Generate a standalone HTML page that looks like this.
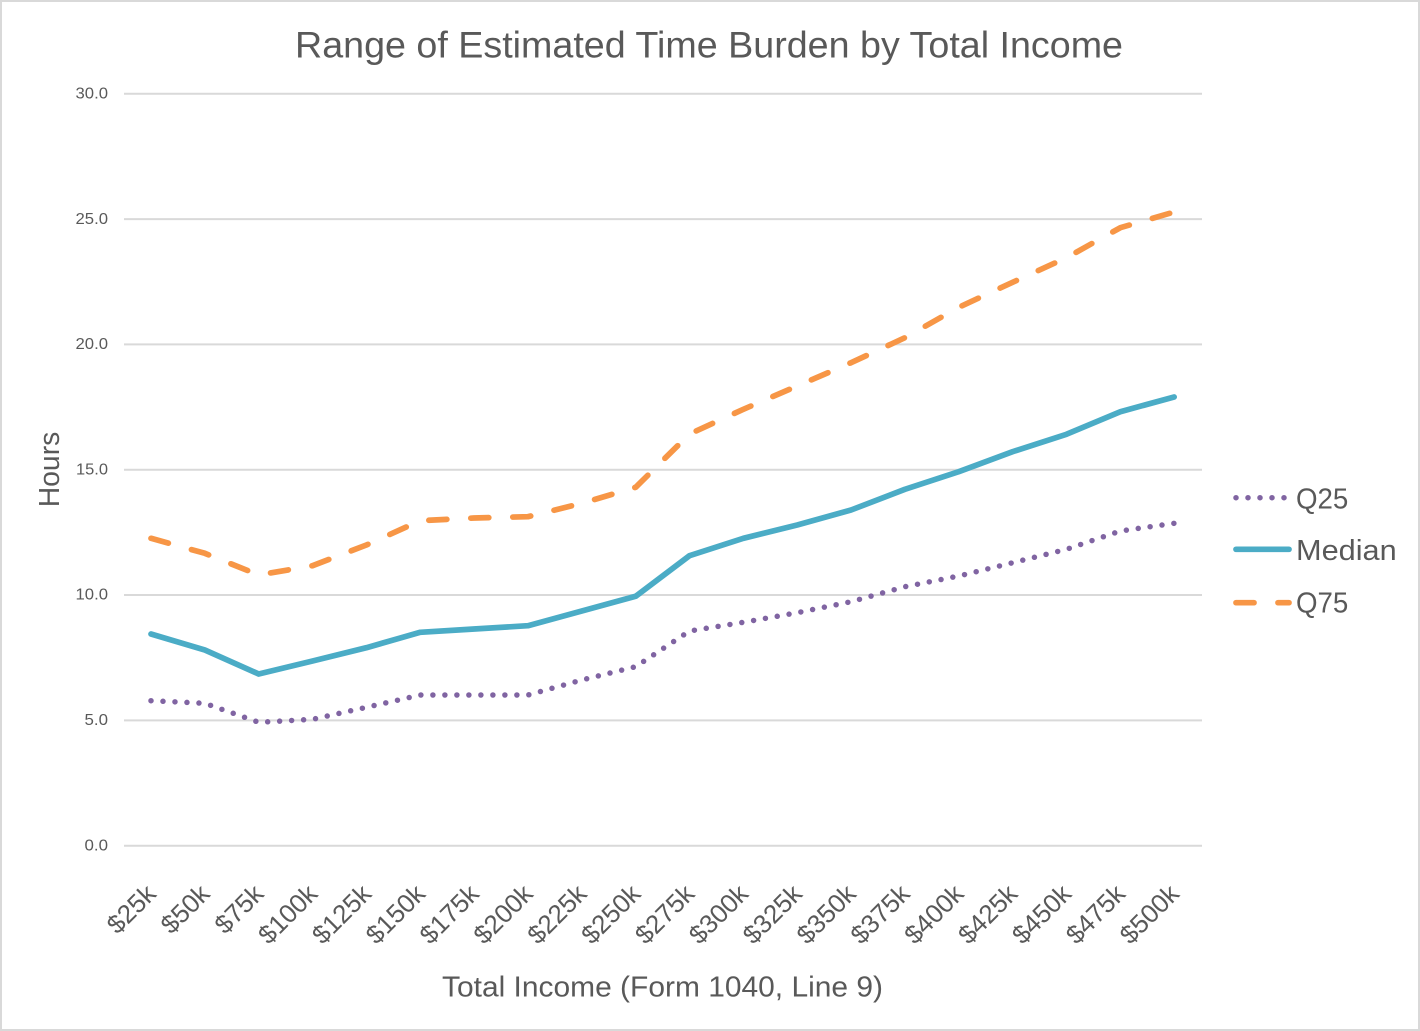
<!DOCTYPE html>
<html>
<head>
<meta charset="utf-8">
<style>
  html, body { margin: 0; padding: 0; background: #ffffff; }
  svg { display: block; }
  text { font-family: "Liberation Sans", "DejaVu Sans", sans-serif; fill: #595959; }
</style>
</head>
<body>
<svg width="1420" height="1031" viewBox="0 0 1420 1031" xmlns="http://www.w3.org/2000/svg">
  <rect x="0" y="0" width="1420" height="1031" fill="#ffffff"/>
  <rect x="1" y="1" width="1418" height="1029" fill="none" stroke="#d9d9d9" stroke-width="2"/>

  <!-- Title -->
  <text x="709" y="57.5" font-size="37" text-anchor="middle" textLength="828" lengthAdjust="spacingAndGlyphs">Range of Estimated Time Burden by Total Income</text>

  <!-- Gridlines -->
  <g stroke="#d9d9d9" stroke-width="2">
    <line x1="124" y1="93.7" x2="1202" y2="93.7"/>
    <line x1="124" y1="219.1" x2="1202" y2="219.1"/>
    <line x1="124" y1="344.4" x2="1202" y2="344.4"/>
    <line x1="124" y1="469.8" x2="1202" y2="469.8"/>
    <line x1="124" y1="595.0" x2="1202" y2="595.0"/>
    <line x1="124" y1="720.4" x2="1202" y2="720.4"/>
    <line x1="124" y1="845.7" x2="1202" y2="845.7"/>
  </g>

  <!-- Y tick labels -->
  <g font-size="15.5" text-anchor="end">
    <text x="108" y="98.5" textLength="32.5" lengthAdjust="spacingAndGlyphs">30.0</text>
    <text x="108" y="223.8" textLength="32.5" lengthAdjust="spacingAndGlyphs">25.0</text>
    <text x="108" y="349.1" textLength="32.5" lengthAdjust="spacingAndGlyphs">20.0</text>
    <text x="108" y="474.4" textLength="32" lengthAdjust="spacingAndGlyphs">15.0</text>
    <text x="108" y="599.7" textLength="32.5" lengthAdjust="spacingAndGlyphs">10.0</text>
    <text x="108" y="725.0" textLength="23.5" lengthAdjust="spacingAndGlyphs">5.0</text>
    <text x="108" y="850.3" textLength="23.5" lengthAdjust="spacingAndGlyphs">0.0</text>
  </g>

  <!-- Y axis title -->
  <text transform="translate(59,469.5) rotate(-90)" font-size="29" text-anchor="middle" textLength="75.6" lengthAdjust="spacingAndGlyphs">Hours</text>

  <!-- X tick labels -->
  <g font-size="26" text-anchor="end">
    <text transform="translate(157.4,895.4) rotate(-45)">$25k</text>
    <text transform="translate(211.25,895.4) rotate(-45)">$50k</text>
    <text transform="translate(265.1,895.4) rotate(-45)">$75k</text>
    <text transform="translate(318.95,895.4) rotate(-45)">$100k</text>
    <text transform="translate(372.8,895.4) rotate(-45)">$125k</text>
    <text transform="translate(426.65,895.4) rotate(-45)">$150k</text>
    <text transform="translate(480.5,895.4) rotate(-45)">$175k</text>
    <text transform="translate(534.35,895.4) rotate(-45)">$200k</text>
    <text transform="translate(588.2,895.4) rotate(-45)">$225k</text>
    <text transform="translate(642.05,895.4) rotate(-45)">$250k</text>
    <text transform="translate(695.9,895.4) rotate(-45)">$275k</text>
    <text transform="translate(749.75,895.4) rotate(-45)">$300k</text>
    <text transform="translate(803.6,895.4) rotate(-45)">$325k</text>
    <text transform="translate(857.45,895.4) rotate(-45)">$350k</text>
    <text transform="translate(911.3,895.4) rotate(-45)">$375k</text>
    <text transform="translate(965.15,895.4) rotate(-45)">$400k</text>
    <text transform="translate(1019.0,895.4) rotate(-45)">$425k</text>
    <text transform="translate(1072.85,895.4) rotate(-45)">$450k</text>
    <text transform="translate(1126.7,895.4) rotate(-45)">$475k</text>
    <text transform="translate(1180.55,895.4) rotate(-45)">$500k</text>
  </g>

  <!-- X axis title -->
  <text x="442" y="996.7" font-size="29" textLength="441" lengthAdjust="spacingAndGlyphs">Total Income (Form 1040, Line 9)</text>

  <!-- Series -->
  <g fill="none" stroke-linejoin="round" stroke-linecap="round">
    <!-- Q25 -->
    <polyline stroke="#8064A2" stroke-width="5.5" stroke-dasharray="0 12"
      points="151,700.7 204.85,703.3 258.7,722.3 312.55,719.3 366.4,707.3 420.25,695 474.1,695 527.95,695 581.8,680 635.65,666.7 689.5,631 743.35,622.3 797.2,612.7 851.05,601.7 904.9,586.7 958.75,576 1012.6,562.7 1066.45,549.3 1120.3,531 1174.15,523.3"/>
    <!-- Median -->
    <polyline stroke="#4BACC6" stroke-width="5.7"
      points="151,634 204.85,650 258.7,674 312.55,661 366.4,647.7 420.25,632.3 474.1,629 527.95,625.7 581.8,611 635.65,596.3 689.5,555.7 743.35,538.3 797.2,525 851.05,510 904.9,489.3 958.75,471.7 1012.6,451.7 1066.45,434.3 1120.3,411.7 1174.15,397"/>
    <!-- Q75 -->
    <polyline stroke="#F79646" stroke-width="5.7" stroke-dasharray="18 24"
      points="151,538.3 204.85,553.3 258.7,575 312.55,565.7 366.4,545 420.25,520.7 474.1,518 527.95,516.7 581.8,503.3 635.65,487.3 689.5,434 743.35,409.3 797.2,386 851.05,362.7 904.9,337.7 958.75,307.3 1012.6,282.3 1066.45,257.7 1120.3,227.7 1174.15,212"/>
  </g>

  <!-- Legend -->
  <g fill="none" stroke-linecap="round">
    <line x1="1236" y1="497.7" x2="1290" y2="497.7" stroke="#8064A2" stroke-width="5.5" stroke-dasharray="0 12"/>
    <line x1="1236" y1="549.3" x2="1289" y2="549.3" stroke="#4BACC6" stroke-width="5.7"/>
    <line x1="1236" y1="602.7" x2="1289" y2="602.7" stroke="#F79646" stroke-width="5.7" stroke-dasharray="18 24"/>
  </g>
  <g font-size="29">
    <text x="1296" y="508.3" textLength="52.3" lengthAdjust="spacingAndGlyphs">Q25</text>
    <text x="1296" y="560" textLength="100.7" lengthAdjust="spacingAndGlyphs">Median</text>
    <text x="1296" y="612.7" textLength="52.3" lengthAdjust="spacingAndGlyphs">Q75</text>
  </g>
</svg>
</body>
</html>
